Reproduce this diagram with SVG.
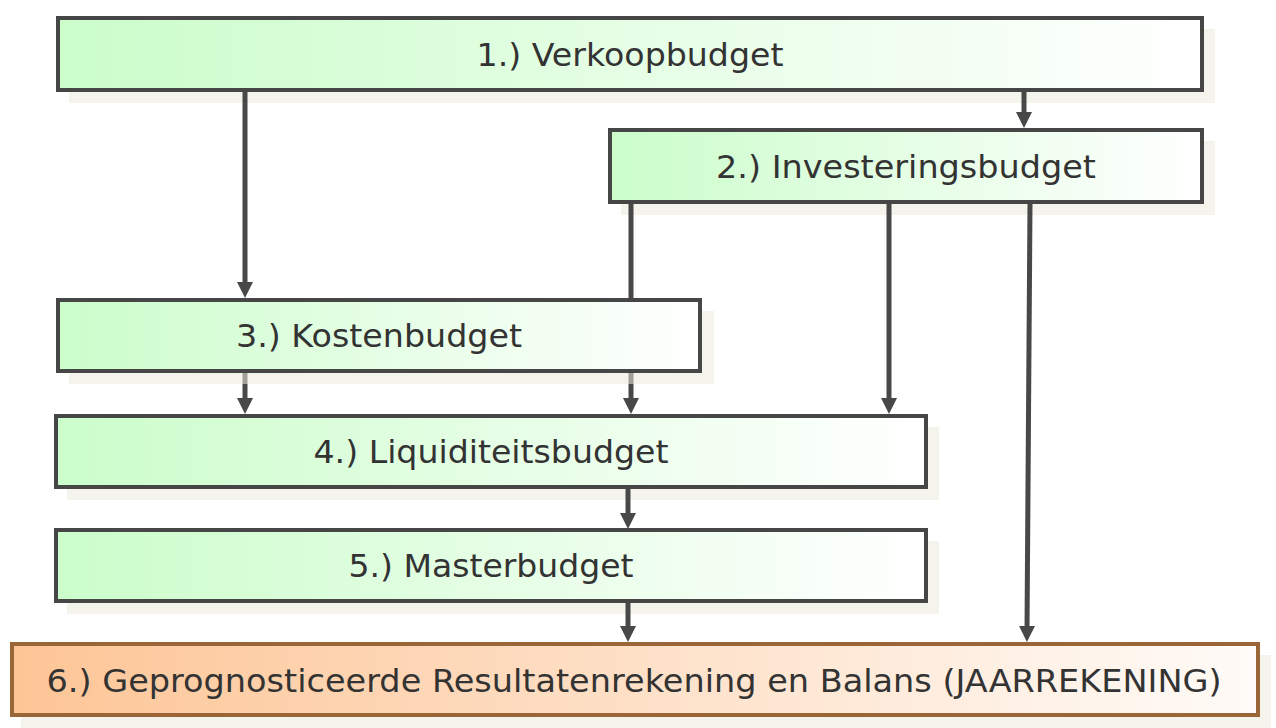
<svg xmlns="http://www.w3.org/2000/svg" width="1276" height="728" viewBox="0 0 1276 728">
<style>
.box{stroke:#464646;stroke-width:4;fill:url(#gGreen)}
.box6{stroke:#9a6638;stroke-width:4;fill:url(#gOrange)}
.shadow{fill:#ebe9dd;opacity:0.55}
.lbl{font-family:"DejaVu Sans","Verdana",sans-serif;font-size:32px;fill:#333333;text-anchor:middle}
.con{stroke:#484848;stroke-width:5;fill:none}
</style>
<defs>
<linearGradient id="gGreen" x1="0" y1="0" x2="1" y2="0">
<stop offset="0" stop-color="#cbfdcb"/>
<stop offset="1" stop-color="#ffffff"/>
</linearGradient>
<linearGradient id="gOrange" x1="0" y1="0" x2="1" y2="0">
<stop offset="0" stop-color="#fdc596"/>
<stop offset="1" stop-color="#fffbf8"/>
</linearGradient>
<marker id="arr" viewBox="0 0 16 16" refX="4" refY="8" markerWidth="16" markerHeight="16" markerUnits="userSpaceOnUse" orient="auto">
<path d="M0,0 L16,8 L0,16 z" fill="#484848"/>
</marker>
</defs>
<g id="node1">
<rect class="shadow" x="69" y="29" width="1146" height="74"/>
<rect class="box" x="58" y="18" width="1144" height="72"/>
<text class="lbl" x="630" y="66" textLength="307" lengthAdjust="spacingAndGlyphs">1.) Verkoopbudget</text>
</g>
<g id="node2">
<rect class="shadow" x="621" y="141" width="594" height="74"/>
<rect class="box" x="610" y="130" width="592" height="72"/>
<text class="lbl" x="906" y="178" textLength="380" lengthAdjust="spacingAndGlyphs">2.) Investeringsbudget</text>
</g>
<g id="node4">
<rect class="shadow" x="67" y="427" width="872" height="73"/>
<rect class="box" x="56" y="416" width="870" height="71"/>
<text class="lbl" x="491" y="463" textLength="355" lengthAdjust="spacingAndGlyphs">4.) Liquiditeitsbudget</text>
</g>
<g id="node5">
<rect class="shadow" x="67" y="541" width="872" height="73"/>
<rect class="box" x="56" y="530" width="870" height="71"/>
<text class="lbl" x="491" y="577" textLength="285" lengthAdjust="spacingAndGlyphs">5.) Masterbudget</text>
</g>
<g id="node6">
<rect class="shadow" x="21" y="655" width="1250" height="73"/>
<rect class="box6" x="12" y="644" width="1246" height="71"/>
<text class="lbl" x="634" y="692" textLength="1175" lengthAdjust="spacingAndGlyphs">6.) Geprognosticeerde Resultatenrekening en Balans (JAARREKENING)</text>
</g>
<g id="connectors">
<line class="con" x1="245" y1="92" x2="245" y2="286" marker-end="url(#arr)"/>
<line class="con" x1="1024" y1="92" x2="1024" y2="116" marker-end="url(#arr)"/>
<line class="con" x1="631" y1="204" x2="631" y2="402" marker-end="url(#arr)"/>
<line class="con" x1="889" y1="204" x2="889" y2="402" marker-end="url(#arr)"/>
<line class="con" x1="1030" y1="204" x2="1027" y2="630" marker-end="url(#arr)"/>
<line class="con" x1="245" y1="373" x2="245" y2="402" marker-end="url(#arr)"/>
<line class="con" x1="628" y1="489" x2="628" y2="517" marker-end="url(#arr)"/>
<line class="con" x1="628" y1="603" x2="628" y2="630" marker-end="url(#arr)"/>
</g>
<g id="node3">
<rect class="shadow" x="69" y="311" width="645" height="73"/>
<rect class="box" x="58" y="300" width="642" height="71"/>
<text class="lbl" x="379" y="347" textLength="286" lengthAdjust="spacingAndGlyphs">3.) Kostenbudget</text>
</g>
</svg>
